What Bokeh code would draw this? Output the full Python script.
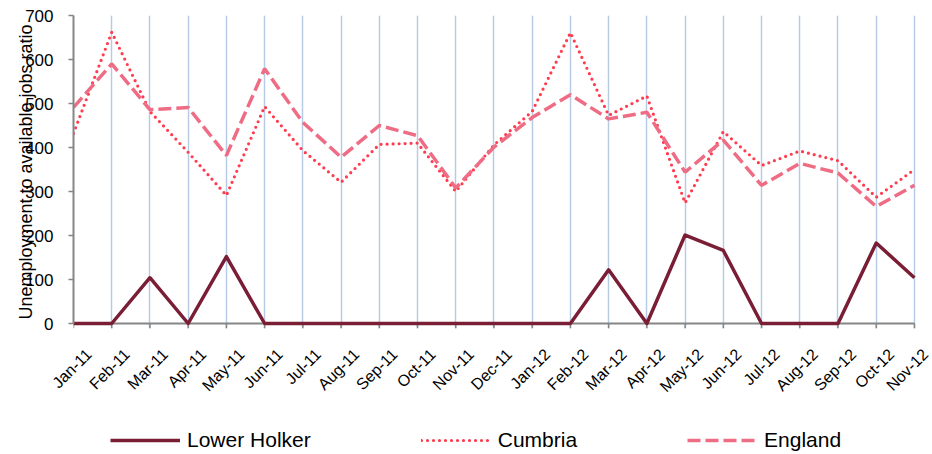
import math
from bokeh.plotting import figure
from bokeh.models import Range1d, FixedTicker, Legend, LegendItem, ColumnDataSource, LinearAxis
from bokeh.layouts import column
from bokeh.embed import file_html
from bokeh.resources import INLINE

months = ["Jan-11", "Feb-11", "Mar-11", "Apr-11", "May-11", "Jun-11", "Jul-11", "Aug-11",
          "Sep-11", "Oct-11", "Nov-11", "Dec-11", "Jan-12", "Feb-12", "Mar-12", "Apr-12",
          "May-12", "Jun-12", "Jul-12", "Aug-12", "Sep-12", "Oct-12", "Nov-12"]
lower_holker = [0, 0, 104, 0, 152, 0, 0, 0, 0, 0, 0, 0, 0, 0, 122, 0, 201, 166, 0, 0, 0, 183, 104]
cumbria = [432, 662, 482, 389, 291, 493, 393, 321, 407, 410, 300, 406, 482, 661, 473, 517,
           274, 436, 359, 392, 370, 287, 350]
england = [491, 590, 486, 491, 382, 579, 457, 378, 450, 427, 308, 401, 468, 520, 465, 480,
           344, 417, 314, 364, 342, 266, 314]
y_ticks = [0, 100, 200, 300, 400, 500, 600, 700]
series_names = ["Lower Holker", "Cumbria", "England"]

idx = list(range(len(months)))
src = ColumnDataSource(dict(x=idx, lh=lower_holker, cu=cumbria, en=england))

FONT = "Liberation Sans"
AXIS_GRAY = "#868686"
STYLES = [dict(line_color="#7A1E36", line_width=3.5, line_join="round"),
          dict(line_color="#FF3B4E", line_width=3.2, line_dash="0 6", line_cap="round"),
          dict(line_color="#EE6C84", line_width=3.5, line_dash="13 5")]

Y_MAX = 700
TICK_LEN_PX = 5
PLOT_H_PX = 308
y_pad = Y_MAX * TICK_LEN_PX / PLOT_H_PX   # room for the x tick marks under y = 0
shift = 0.40                               # rotated labels sit centred under their ticks
x_end = idx[-1] + shift + 0.02

p = figure(width=931, height=412, output_backend="svg", toolbar_location=None,
           x_range=Range1d(idx[0], x_end), y_range=Range1d(-y_pad, Y_MAX),
           x_axis_location=None,
           min_border_left=73, min_border_right=1, min_border_top=15, min_border_bottom=84)
p.outline_line_color = None

# vertical grid
p.ygrid.grid_line_color = None
p.xgrid.grid_line_color = "#B7CCE4"
p.xgrid.grid_line_width = 1.5
p.xgrid.ticker = FixedTicker(ticks=idx)

# x axis line and tick marks
p.segment(x0=idx, x1=idx, y0=[-y_pad] * len(idx), y1=[0] * len(idx),
          line_color=AXIS_GRAY, line_width=1.5)
p.segment(x0=[idx[0]], x1=[idx[-1]], y0=[0], y1=[0], line_color=AXIS_GRAY, line_width=2)

# x axis labels
lab_pos = [i + shift for i in idx]
ax_labels = LinearAxis(ticker=FixedTicker(ticks=lab_pos),
                       major_label_overrides={lp: m for lp, m in zip(lab_pos, months)},
                       major_label_orientation=math.pi / 4,
                       major_label_text_font=FONT, major_label_text_font_size="16px",
                       major_label_text_color="black", major_label_standoff=17,
                       axis_line_color=None, major_tick_line_color=None,
                       minor_tick_line_color=None)
p.add_layout(ax_labels, "below")

# y axis
p.yaxis.ticker = FixedTicker(ticks=y_ticks)
p.yaxis.bounds = (0, Y_MAX)
p.yaxis.major_label_text_font = FONT
p.yaxis.major_label_text_font_size = "17px"
p.yaxis.major_label_text_color = "black"
p.yaxis.axis_line_color = AXIS_GRAY
p.yaxis.axis_line_width = 2
p.yaxis.major_tick_line_color = AXIS_GRAY
p.yaxis.major_tick_line_width = 1.5
p.yaxis.major_tick_out = 5
p.yaxis.major_tick_in = 0
p.yaxis.minor_tick_line_color = None
p.yaxis.major_label_standoff = 15
p.yaxis.axis_label = "Unemployment to available jobs ratio"
p.yaxis.axis_label_text_font = FONT
p.yaxis.axis_label_text_font_size = "18px"
p.yaxis.axis_label_text_font_style = "normal"
p.yaxis.axis_label_text_color = "black"
p.yaxis.axis_label_standoff = -14

p.line("x", "lh", source=src, **STYLES[0])
p.line("x", "cu", source=src, **STYLES[1])
p.line("x", "en", source=src, **STYLES[2])

# legend strip below the chart
leg_fig = figure(width=931, height=40, output_backend="svg", toolbar_location=None,
                 x_range=Range1d(0, 1), y_range=Range1d(0, 1),
                 min_border=0, x_axis_location=None, y_axis_location=None)
leg_fig.outline_line_color = None
leg_fig.grid.grid_line_color = None
items = []
for name, st in zip(series_names, STYLES):
    r = leg_fig.line(x=[-1, -2], y=[-1, -2], **st)
    items.append(LegendItem(label=name, renderers=[r]))
legend = Legend(items=items, orientation="horizontal", location=(37, 0),
                glyph_width=70, glyph_height=22, label_height=22, label_standoff=7,
                spacing=110, padding=0, margin=0,
                border_line_alpha=0, background_fill_alpha=0,
                label_text_font=FONT, label_text_font_size="21px", label_text_color="black")
leg_fig.add_layout(legend)

layout = column(p, leg_fig, spacing=0)
open("out.html", "w").write(file_html(layout, INLINE))
